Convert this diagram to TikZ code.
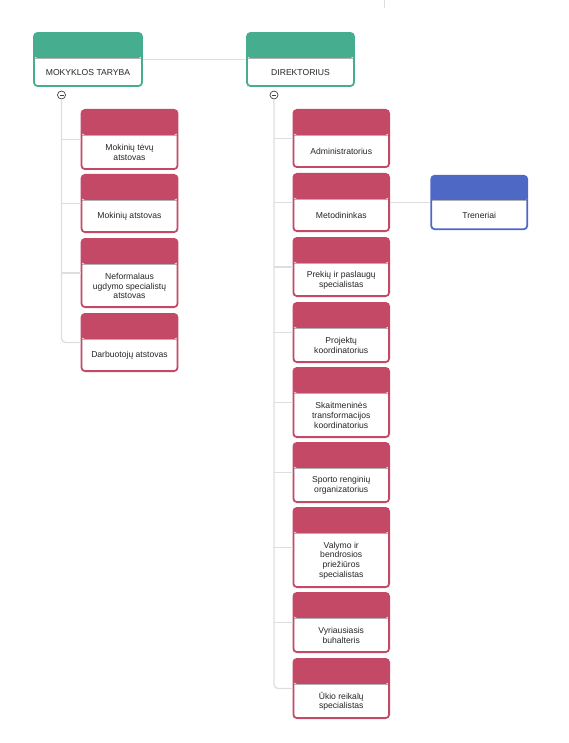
\documentclass[tikz,border=0pt]{standalone}
\usepackage{fontspec}
\setmainfont{Liberation Sans}
\definecolor{boardgreen}{RGB}{70,173,142}
\definecolor{staffred}{RGB}{196,73,102}
\definecolor{coachblue}{RGB}{78,104,197}
\definecolor{linkgray}{RGB}{222,222,222}
\tikzset{
  orgbox/.style={draw=#1, line width=1.8pt, rounded corners=3.5pt, fill=white, inner sep=0pt,
    path picture={
      \fill[#1] (path picture bounding box.north west) rectangle ([yshift=-25pt]path picture bounding box.north east);
      \draw[gray!60, line width=0.6pt] ([yshift=-25pt]path picture bounding box.north west) -- ([yshift=-25pt]path picture bounding box.north east);
    }},
  boxtext/.style={font=\fontsize{8.6}{9.6}\selectfont, text=black!85, align=center, inner sep=0pt},
  link/.style={draw=linkgray, line width=1.3pt},
  collapse/.style={circle, draw=black!75, fill=white, line width=0.7pt, minimum size=8pt, inner sep=0pt,
    path picture={\draw[black!75, line width=0.7pt] ([xshift=2pt]path picture bounding box.west) -- ([xshift=-2pt]path picture bounding box.east);}}
}
\begin{document}
\begin{tikzpicture}[x=1pt, y=-1pt]
  \useasboundingbox (0,0) rectangle (569,743);
  \draw[linkgray, line width=0.8pt] (384,0) -- (384,8);

  % Top level
  \node[orgbox=boardgreen, minimum width=108pt, minimum height=53pt] (taryba) at (88,59.5) {};
  \node[boxtext] (taryba-t) at ([yshift=-13pt]taryba.center) {MOKYKLOS TARYBA};
  \node[orgbox=boardgreen, minimum width=107pt, minimum height=53pt] (direktorius) at (300.5,59.5) {};
  \node[boxtext] (direktorius-t) at ([yshift=-13pt]direktorius.center) {DIREKTORIUS};
  \draw[link] (taryba.east) -- (direktorius.west);

  % Collapse toggles
  \node[collapse] (mkCirc) at (61.5,95) {};
  \node[collapse] (drCirc) at (274,95) {};

  % Council members
  \foreach \name/\ytop/\ybot/\txt in {tevu/109/170/{Mokinių tėvų\\atstovas},
      mokiniu/174/233/{Mokinių atstovas},
      neform/238/308/{Neformalaus\\ugdymo specialistų\\atstovas},
      darb/313/372/{Darbuotojų atstovas}} {
    \pgfmathsetmacro{\ymid}{(\ytop+\ybot)/2}
    \pgfmathsetmacro{\hgt}{\ybot-\ytop-1.8}
    \node[orgbox=staffred, minimum width=96pt, minimum height=\hgt pt] (\name) at (129.5,\ymid) {};
    \node[boxtext] (\name-t) at ([yshift=-13pt]\name.center) {\txt};
  }
  \draw[link, rounded corners=4pt] (mkCirc.south) |- (darb.west);
  \foreach \name in {tevu, mokiniu, neform}
    \draw[link] (mkCirc.south |- \name.west) -- (\name.west);

  % Staff under the director
  \foreach \name/\ytop/\ybot/\txt in {admin/109/168/{Administratorius},
      metod/173/232/{Metodininkas},
      prekiu/237/297/{Prekių ir paslaugų\\specialistas},
      projektu/302/363/{Projektų\\koordinatorius},
      skaitm/367/438/{Skaitmeninės\\transformacijos\\koordinatorius},
      sporto/442/503/{Sporto renginių\\organizatorius},
      valymo/507/588/{Valymo ir\\bendrosios\\priežiūros\\specialistas},
      vyr/592/653/{Vyriausiasis\\buhalteris},
      ukio/658/719/{Ūkio reikalų\\specialistas}} {
    \pgfmathsetmacro{\ymid}{(\ytop+\ybot)/2}
    \pgfmathsetmacro{\hgt}{\ybot-\ytop-1.8}
    \node[orgbox=staffred, minimum width=95.7pt, minimum height=\hgt pt] (\name) at (341.25,\ymid) {};
    \node[boxtext] (\name-t) at ([yshift=-13pt]\name.center) {\txt};
  }
  \draw[link, rounded corners=4pt] (drCirc.south) |- (ukio.west);
  \foreach \name in {admin, metod, prekiu, projektu, skaitm, sporto, valymo, vyr}
    \draw[link] (drCirc.south |- \name.west) -- (\name.west);

  % Coaches
  \node[orgbox=coachblue, minimum width=96pt, minimum height=53.5pt] (treneriai) at (479.2,202.5) {};
  \node[boxtext] (treneriai-t) at ([yshift=-13pt]treneriai.center) {Treneriai};
  \draw[link] (metod.east) -- (treneriai.west);
\end{tikzpicture}
\end{document}
